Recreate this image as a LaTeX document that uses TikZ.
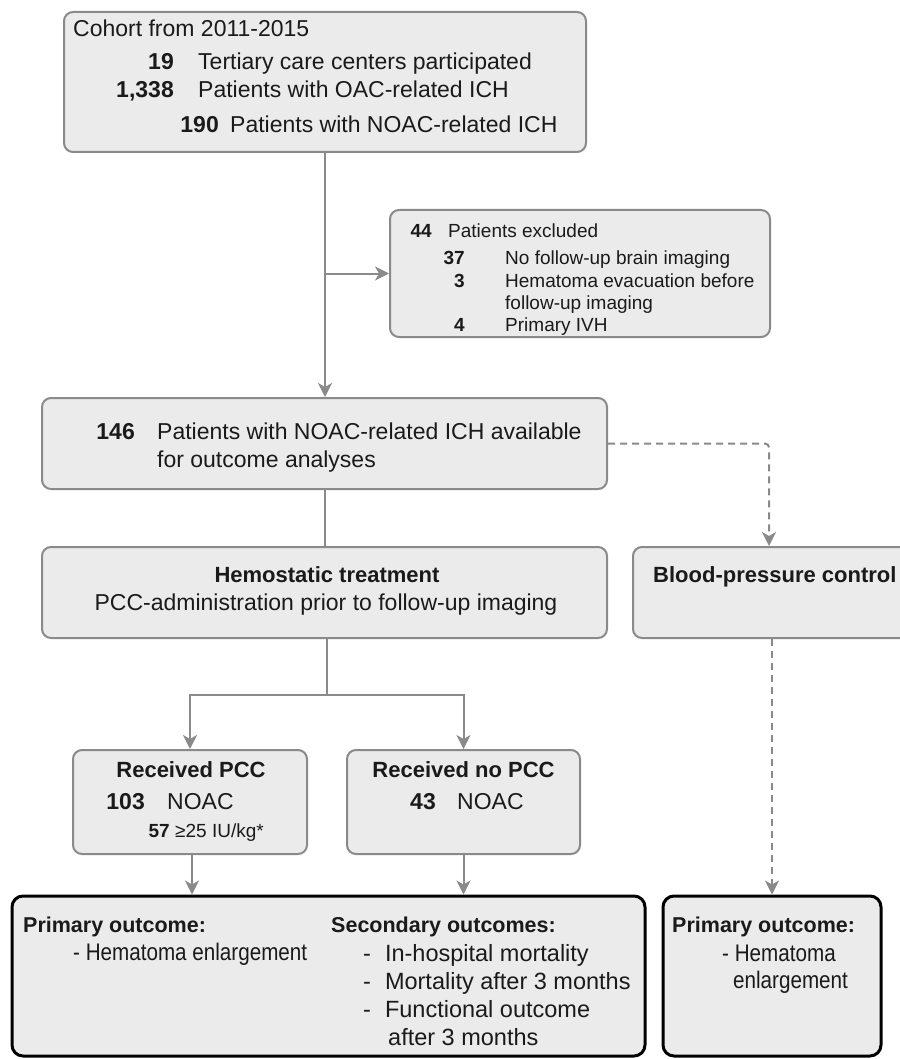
\documentclass[tikz,border=0pt]{standalone}
\usepackage{fontspec}
\setmainfont{Liberation Sans}
\newfontfamily\condfont[FakeStretch=0.86]{Liberation Sans}
\usetikzlibrary{arrows.meta}
\definecolor{boxgray}{HTML}{EBEBEB}
\definecolor{linegray}{HTML}{8A8A8A}
\definecolor{ink}{HTML}{1A1A1A}
\begin{document}
\begin{tikzpicture}[x=1pt,y=-1pt,
  box/.style={draw=linegray, fill=boxgray, line width=2pt, rounded corners=9pt, inner sep=0pt},
  outbox/.style={draw=black, fill=boxgray, line width=3pt, rounded corners=11pt, inner sep=0pt},
  conn/.style={draw=linegray, line width=2pt},
  arr/.style={conn, -{Stealth[length=14pt,width=14pt,inset=4pt]}},
  dasharr/.style={arr, dash pattern=on 7pt off 5pt, rounded corners=4pt},
  txt/.style={inner sep=0pt, text=ink, font=\fontsize{23}{27}\selectfont},
  btxt/.style={txt, font=\fontsize{23}{27}\selectfont\bfseries},
  htxt/.style={txt, font=\fontsize{22}{27}\selectfont\bfseries},
  stxt/.style={txt, font=\fontsize{19}{23}\selectfont},
  sbtxt/.style={txt, font=\fontsize{19}{23}\selectfont\bfseries},
  otxt/.style={txt, font=\fontsize{21.5}{26}\selectfont\bfseries},
  ctxt/.style={txt, font=\fontsize{24}{28}\selectfont\condfont},
  ltxt/.style={txt, font=\fontsize{23.5}{28}\selectfont}]
\useasboundingbox (0,0) rectangle (899,1059);

% boxes
\node[box, minimum width=522pt, minimum height=140pt] (cohort) at (325,82) {};
\node[box, minimum width=380pt, minimum height=127pt] (excl) at (580,273.5) {};
\node[box, minimum width=565pt, minimum height=91pt] (box3) at (324.5,443.5) {};
\node[box, minimum width=565pt, minimum height=91pt] (hemo) at (324.5,592.5) {};
\node[box, minimum width=282pt, minimum height=91pt] (bp) at (774,592.5) {};
\node[box, minimum width=234pt, minimum height=104pt] (pcc) at (190,802) {};
\node[box, minimum width=233pt, minimum height=104pt] (nopcc) at (463.5,802) {};
\node[outbox, minimum width=633pt, minimum height=160pt] (out1) at (328.5,976) {};
\node[outbox, minimum width=218pt, minimum height=160pt] (out2) at (772,976) {};

% cohort texts
\node[txt, anchor=base west] (c0) at (73,37) {Cohort from 2011-2015};
\node[btxt, anchor=base east] (c1n) at (174,70) {19};
\node[txt, anchor=base west] (c1t) at (198,70) {Tertiary care centers participated};
\node[btxt, anchor=base east] (c2n) at (174,98) {1,338};
\node[txt, anchor=base west] (c2t) at (198,98) {Patients with OAC-related ICH};
\node[btxt, anchor=base east] (c3n) at (219,133) {190};
\node[txt, anchor=base west] (c3t) at (230,133) {Patients with NOAC-related ICH};

% exclusion texts
\node[sbtxt, anchor=base east] (e0n) at (432,237) {44};
\node[stxt, anchor=base west] (e0t) at (448,237) {Patients excluded};
\node[sbtxt, anchor=base east] (e1n) at (465,265) {37};
\node[stxt, anchor=base west] (e1t) at (505,265) {No follow-up brain imaging};
\node[sbtxt, anchor=base east] (e2n) at (465,287) {3};
\node[stxt, anchor=base west] (e2t) at (505,287) {Hematoma evacuation before};
\node[stxt, anchor=base west] (e2u) at (505,309) {follow-up imaging};
\node[sbtxt, anchor=base east] (e3n) at (465,331) {4};
\node[stxt, anchor=base west] (e3t) at (505,331) {Primary IVH};

% box3 texts
\node[btxt, anchor=base east] (b3n) at (135,439) {146};
\node[txt, anchor=base west] (b3t) at (157,439) {Patients with NOAC-related ICH available};
\node[txt, anchor=base west] (b3u) at (157,467) {for outcome analyses};

% hemostatic / bp texts
\node[htxt, anchor=base] (h1) at (327,582) {Hemostatic treatment};
\node[txt, anchor=base] (h2) at (326,610) {PCC-administration prior to follow-up imaging};
\node[htxt, anchor=base west] (bp1) at (653,582) {Blood-pressure control};

% PCC texts
\node[htxt, anchor=base] (p0) at (191,777) {Received PCC};
\node[btxt, anchor=base east] (p1n) at (145,809) {103};
\node[txt, anchor=base west] (p1t) at (167,809) {NOAC};
\node[sbtxt, anchor=base east] (p2n) at (170,837) {57};
\node[stxt, anchor=base west] (p2t) at (175,837) {≥25 IU/kg*};
\node[htxt, anchor=base] (n0) at (463.5,777) {Received no PCC};
\node[btxt, anchor=base east] (n1n) at (436,809) {43};
\node[txt, anchor=base west] (n1t) at (457,809) {NOAC};

% outcome texts
\node[otxt, anchor=base west] (o1h) at (23,932) {Primary outcome:};
\node[ctxt, anchor=base west] (o1a) at (73,960) {- Hematoma enlargement};
\node[otxt, anchor=base west] (o2h) at (331,932) {Secondary outcomes:};
\node[ltxt, anchor=base west] (o2a) at (363,961) {-\hspace{14pt}In-hospital mortality};
\node[ltxt, anchor=base west] (o2b) at (363,989) {-\hspace{14pt}Mortality after 3 months};
\node[ltxt, anchor=base west] (o2c) at (363,1017) {-\hspace{14pt}Functional outcome};
\node[ltxt, anchor=base west] (o2d) at (388,1045) {after 3 months};
\node[otxt, anchor=base west] (o3h) at (672,932) {Primary outcome:};
\node[ctxt, anchor=base west] (o3a) at (722,961) {- Hematoma};
\node[ctxt, anchor=base west] (o3b) at (733,988) {enlargement};

% connectors
\draw[arr] (cohort.south) -- (cohort.south |- box3.north);
\draw[arr] (cohort.south |- excl.west) -- (excl.west);
\draw[conn] (cohort.south |- box3.south) -- (cohort.south |- hemo.north);
\draw[dasharr] (box3.east) -| ([xshift=-3pt]out2.north |- bp.north);
\coordinate (split) at (327,695);
\draw[conn] (hemo.south -| split) -- (split);
\draw[arr] (split) -| (pcc.north);
\draw[arr] (split) -| (nopcc.north);
\draw[arr] (pcc.south -| 192,0) -- (out1.north -| 192,0);
\draw[arr] (nopcc.south) -- (nopcc.south |- out1.north);
\draw[dasharr] (bp.south -| out2.north) -- (out2.north);
\end{tikzpicture}
\end{document}
